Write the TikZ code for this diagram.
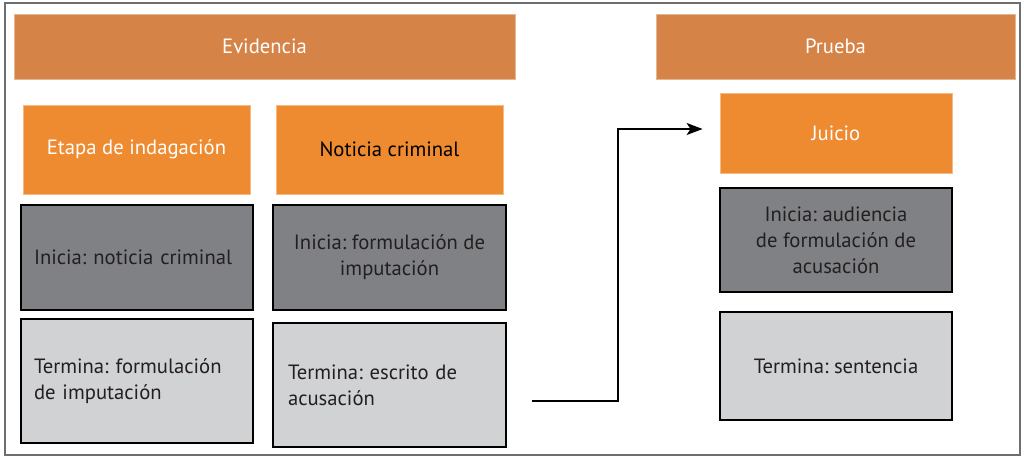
\documentclass[tikz,border=0pt]{standalone}
\usepackage{fontspec}
\setmainfont{PT Sans}
\frenchspacing
\usetikzlibrary{arrows.meta}
\definecolor{hdr}{HTML}{D68347}
\definecolor{org}{HTML}{EE8A2F}
\definecolor{dgray}{HTML}{808184}
\definecolor{lgray}{HTML}{D1D2D4}
\definecolor{txt}{HTML}{231F20}
\definecolor{frm}{HTML}{6D6E70}
\begin{document}
\begin{tikzpicture}[x=0.75pt,y=-0.75pt,
  every node/.style={font=\fontsize{15.5pt}{19.5pt}\selectfont},
  hdrbox/.style={fill=hdr,draw=hdr!60!white,line width=0.6pt,text=white,inner sep=0pt},
  orgbox/.style={fill=org,draw=org!60!white,line width=0.6pt,text=white,inner sep=0pt},
  darkbox/.style={fill=dgray,draw=black,line width=0.9pt,text=txt,inner sep=0pt},
  lightbox/.style={fill=lgray,draw=black,line width=0.9pt,text=txt,inner sep=0pt},
  flow/.style={line width=1.6pt,-{Stealth[length=12pt,width=9pt,inset=3pt]}}]
\useasboundingbox (0,0) rectangle (1024,457);
\fill[white] (0,0) rectangle (1024,457);
\draw[frm,line width=1.5pt] (5,3) rectangle (1020,455);
\node[hdrbox,minimum width=501*0.75pt,minimum height=65*0.75pt] (evi) at (264.5,46.5) {Evidencia};
\node[hdrbox,minimum width=359*0.75pt,minimum height=65*0.75pt] (pru) at (835.5,46.5) {Prueba};
\node[orgbox,minimum width=227*0.75pt,minimum height=89*0.75pt] (eta) at (136.5,149.5) {Etapa de indagación};
\node[orgbox,text=black,minimum width=227*0.75pt,minimum height=89*0.75pt] (not) at (389.5,149.5) {Noticia criminal};
\node[darkbox,minimum width=232*0.75pt,minimum height=105*0.75pt,align=left,text width=206*0.75pt] (il) at (137,257.5) {Inicia: noticia criminal};
\node[darkbox,minimum width=233*0.75pt,minimum height=105*0.75pt,align=center] (im) at (389.5,257.5) {Inicia: formulación de\\imputación};
\node[lightbox,minimum width=232*0.75pt,minimum height=124*0.75pt,align=left,text width=206*0.75pt] (tl) at (137,381) {Termina: formulación\\de imputación};
\node[lightbox,minimum width=233*0.75pt,minimum height=124*0.75pt,align=left,text width=203*0.75pt] (tm) at (389.5,385) {Termina: escrito de\\acusación};
\node[orgbox,minimum width=232*0.75pt,minimum height=80*0.75pt] (jui) at (836,133) {Juicio};
\node[darkbox,minimum width=232*0.75pt,minimum height=104*0.75pt,align=center] (ir) at (836,240) {Inicia: audiencia\\de formulación de\\acusación};
\node[lightbox,minimum width=232*0.75pt,minimum height=108*0.75pt] (tr) at (836,366) {Termina: sentencia};
\coordinate (s) at (532,401);
\coordinate (k) at (618,401);
\draw[flow,shorten >=12.75pt] (s) -- (k) |- ([yshift=3pt]jui.west);
\end{tikzpicture}
\end{document}
